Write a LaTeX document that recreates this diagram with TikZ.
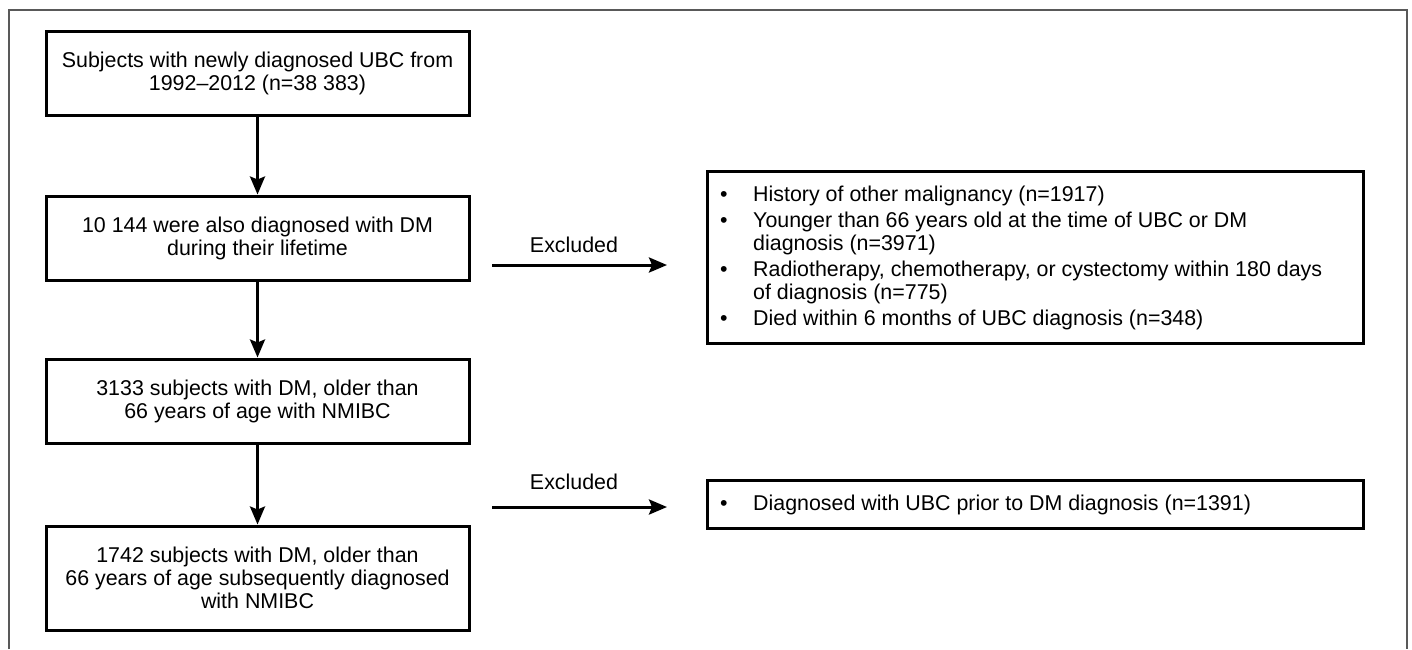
\documentclass[tikz,border=0pt]{standalone}
\usepackage{fontspec}
\setmainfont{Liberation Sans}
\usetikzlibrary{arrows.meta}
\begin{document}
\begin{tikzpicture}[x=1pt,y=-1pt,
  txt/.style={font=\fontsize{21.4}{23}\selectfont},
  listtxt/.style={font=\fontsize{21.4}{23.5}\selectfont},
  box/.style={txt, draw, line width=3pt, align=center, inner sep=0pt},
  arr/.style={line width=3pt, -{Stealth[length=18pt,width=15pt,inset=3pt]}},
  frame/.style={draw=black!65, line width=1.6pt}]
\useasboundingbox (0,0) rectangle (1412,649);
\draw[frame] (9,649) -- (9,10) -- (1407,10) -- (1407,649);

\node[box, minimum width=423pt, minimum height=84pt] (b1) at (257.5,73)
  {Subjects with newly diagnosed UBC from\\1992--2012 (n=38 383)};
\node[box, minimum width=423pt, minimum height=84pt] (b2) at (257.5,238)
  {10 144 were also diagnosed with DM\\during their lifetime};
\node[box, minimum width=423pt, minimum height=84pt] (b3) at (257.5,401)
  {3133 subjects with DM, older than\\66 years of age with NMIBC};
\node[box, minimum width=423pt, minimum height=104pt] (b4) at (257.5,578)
  {1742 subjects with DM, older than\\66 years of age subsequently diagnosed\\with NMIBC};

\node[box, minimum width=656pt, minimum height=172pt] (e1) at (1035,257) {};
\node[box, minimum width=656pt, minimum height=48pt] (e2) at (1035,504) {};

\node[listtxt, anchor=west, inner sep=0pt] (e1t) at (720,259) {%
\begin{tabular}{@{}p{33pt}@{}l@{}}
\textbullet & History of other malignancy (n=1917)\\[2pt]
\textbullet & Younger than 66 years old at the time of UBC or DM\\
 & diagnosis (n=3971)\\[2pt]
\textbullet & Radiotherapy, chemotherapy, or cystectomy within 180 days\\
 & of diagnosis (n=775)\\[2pt]
\textbullet & Died within 6 months of UBC diagnosis (n=348)
\end{tabular}};
\node[listtxt, anchor=west, inner sep=0pt] (e2t) at (720,506) {%
\begin{tabular}{@{}p{33pt}@{}l@{}}
\textbullet & Diagnosed with UBC prior to DM diagnosis (n=1391)
\end{tabular}};

\draw[arr] (b1.south) -- (b2.north);
\draw[arr] (b2.south) -- (b3.north);
\draw[arr] (b3.south) -- (b4.north);

\coordinate (a1s) at (492,265);
\coordinate (a1e) at (667,265);
\coordinate (a2s) at (492,507);
\coordinate (a2e) at (667,507);
\draw[arr] (a1s) -- (a1e);
\draw[arr] (a2s) -- (a2e);
\node[txt, inner sep=0pt] (x1) at (574,245) {Excluded};
\node[txt, inner sep=0pt] (x2) at (574,482) {Excluded};
\end{tikzpicture}
\end{document}
